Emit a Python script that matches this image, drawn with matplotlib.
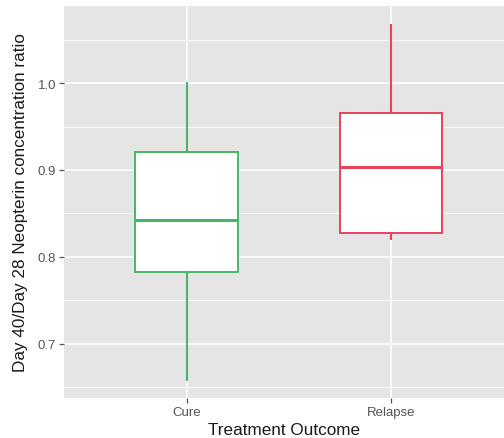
import matplotlib
matplotlib.use("Agg")
import matplotlib.pyplot as plt
import numpy as np

categories = ["Cure", "Relapse"]
whisker_low = [0.658, 0.820]
q1 = [0.783, 0.828]
median = [0.842, 0.904]
q3 = [0.921, 0.966]
whisker_high = [1.000, 1.067]
colors = ["#46B864", "#E8445A"]
yticks = [0.7, 0.8, 0.9, 1.0]
yticklabels = ["0.7", "0.8", "0.9", "1.0"]

plt.rcParams['font.family'] = ['Liberation Sans', 'DejaVu Sans']

fig = plt.figure(figsize=(5.04, 4.39), dpi=100)
W, H = 504, 439
ax = fig.add_axes([64 / W, 1 - 399 / H, (504 - 64) / W, (399 - 7) / H])
ax.set_facecolor("#E5E5E5")
for s in ax.spines.values():
    s.set_visible(False)

ax.set_xlim(0.4, 2.554)
ax.set_ylim(0.6376, 1.0887)

# grid
for y in np.arange(0.65, 1.09, 0.1):
    ax.axhline(y, color="white", lw=0.6, zorder=0)
for y in yticks:
    ax.axhline(y, color="white", lw=1.2, zorder=0)
for x in range(1, len(categories) + 1):
    ax.axvline(x, color="white", lw=1.2, zorder=0)

stats = []
for i, c in enumerate(categories):
    stats.append(dict(label=c, whislo=whisker_low[i], q1=q1[i], med=median[i],
                      q3=q3[i], whishi=whisker_high[i], fliers=[]))

for i, st in enumerate(stats):
    col = colors[i]
    ax.bxp([st], positions=[i + 1], widths=0.5, showcaps=False, patch_artist=True,
           boxprops=dict(facecolor="white", edgecolor=col, linewidth=1.4),
           medianprops=dict(color=col, linewidth=2.2),
           whiskerprops=dict(color=col, linewidth=1.5),
           manage_ticks=False, zorder=3)

ax.set_xticks([1, 2])
ax.set_xticklabels(categories)
ax.set_yticks(yticks)
ax.set_yticklabels(yticklabels)
ax.tick_params(axis="both", colors="#555555", labelcolor="#555555", labelsize=9.5,
               length=3.5, width=0.9, pad=2)
ax.set_xlabel("Treatment Outcome", fontsize=12.3, color="#1a1a1a", labelpad=3.5)
ax.set_ylabel("Day 40/Day 28 Neopterin concentration ratio", fontsize=12.3,
              color="#1a1a1a", labelpad=7)

fig.savefig("out.png", dpi=100)
